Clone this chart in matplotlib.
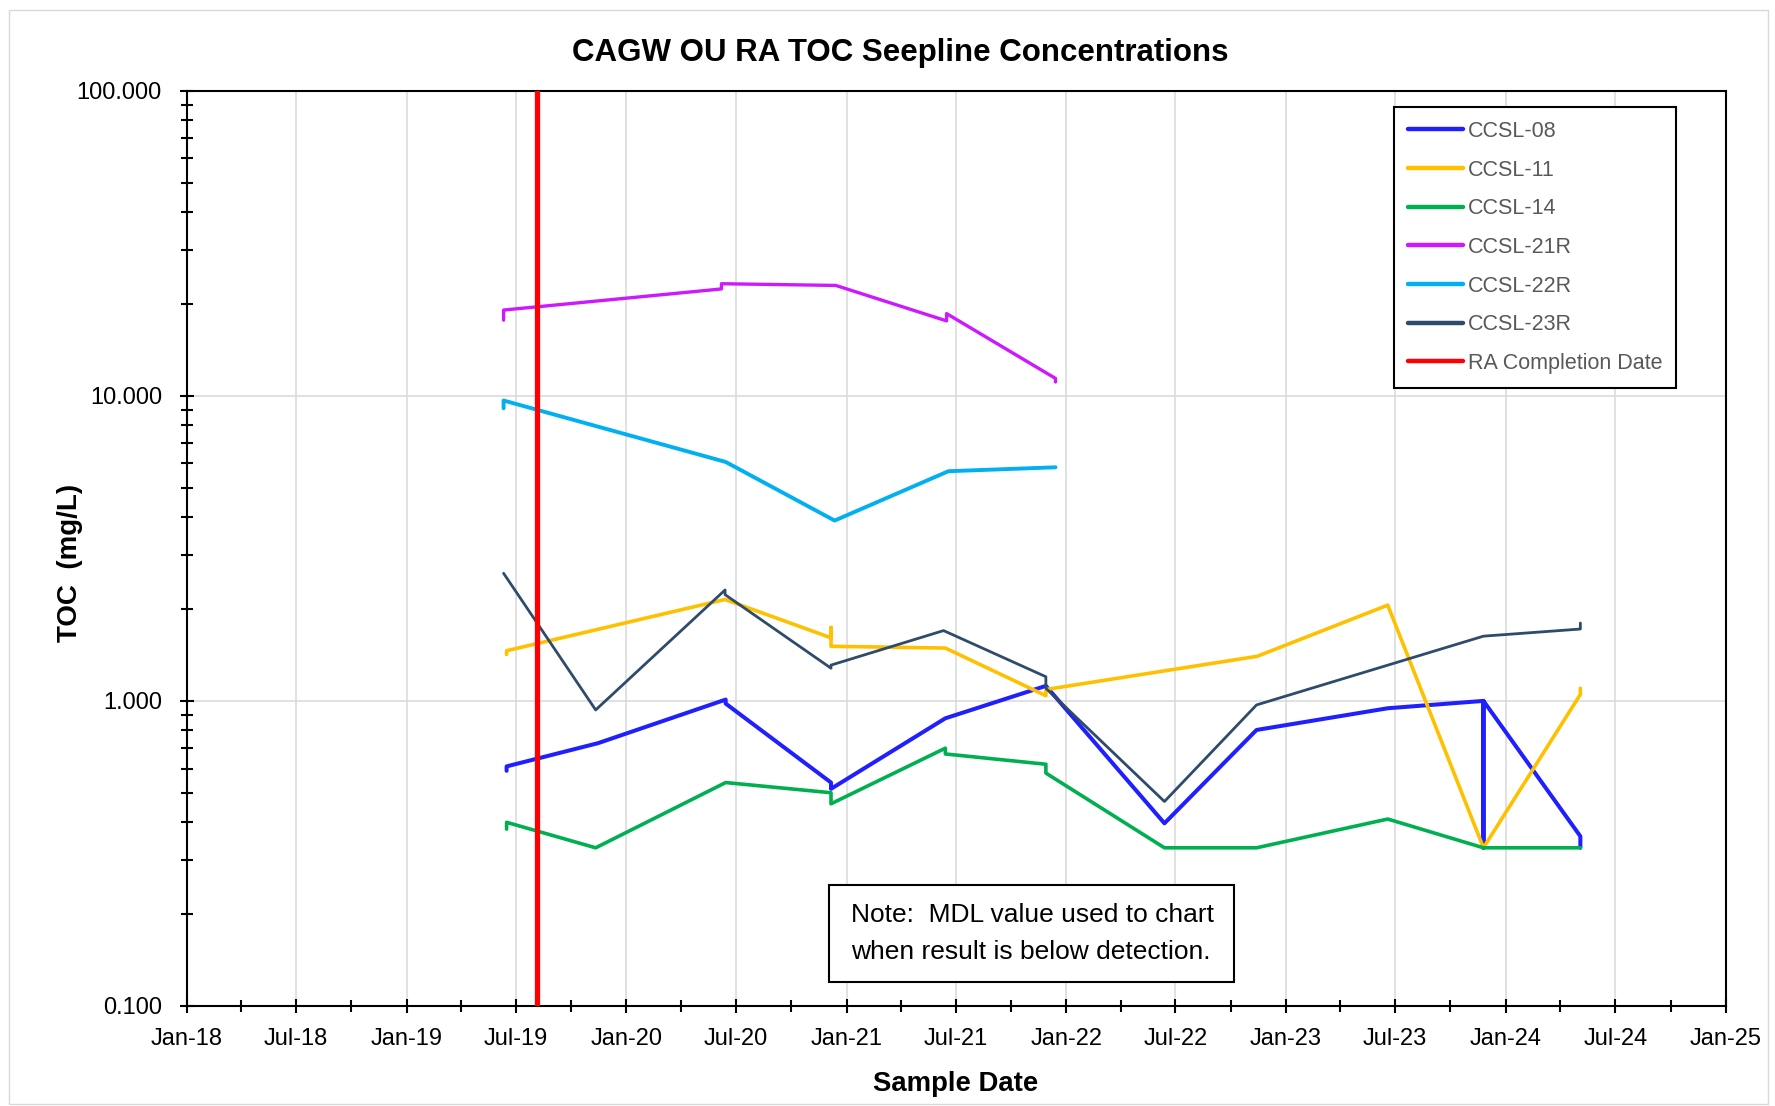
import matplotlib
matplotlib.use("Agg")
import matplotlib.pyplot as plt
import matplotlib.dates as mdates
from matplotlib.ticker import LogLocator, FixedLocator, FormatStrFormatter, NullFormatter
from matplotlib.patches import Rectangle
import pandas as pd

plt.rcParams["font.family"] = ["Liberation Sans", "DejaVu Sans"]

# ---- sample data (TOC, mg/L); repeated dates are field duplicates ----
ccsl08_dates = ["2019-06-16", "2019-06-16", "2019-11-15", "2020-06-14", "2020-06-14",
                "2020-12-06", "2020-12-06", "2021-06-14", "2021-11-28", "2022-06-13",
                "2022-11-13", "2023-06-19", "2023-11-25", "2023-11-25", "2023-11-25",
                "2024-05-04", "2024-05-04"]
ccsl08_vals = [0.59, 0.61, 0.727, 1.01, 0.98, 0.54, 0.515, 0.877, 1.12, 0.397,
               0.803, 0.946, 1.0, 0.33, 1.0, 0.36, 0.33]

ccsl11_dates = ["2019-06-16", "2019-06-16", "2020-06-13", "2020-12-06", "2020-12-06",
                "2020-12-06", "2021-06-14", "2021-11-28", "2021-11-28", "2022-11-14",
                "2023-06-19", "2023-11-25", "2024-05-04", "2024-05-04"]
ccsl11_vals = [1.42, 1.46, 2.15, 1.61, 1.74, 1.51, 1.49, 1.04, 1.09, 1.40,
               2.06, 0.33, 1.05, 1.10]

ccsl14_dates = ["2019-06-16", "2019-06-16", "2019-11-11", "2020-06-14", "2020-12-06",
                "2020-12-06", "2021-06-14", "2021-06-14", "2021-11-28", "2021-11-28",
                "2022-06-13", "2022-11-13", "2023-06-19", "2023-11-25", "2024-05-04"]
ccsl14_vals = [0.38, 0.40, 0.33, 0.54, 0.50, 0.46, 0.70, 0.67, 0.62, 0.58,
               0.33, 0.33, 0.41, 0.33, 0.33]

ccsl21r_dates = ["2019-06-11", "2019-06-11", "2020-06-07", "2020-06-07", "2020-12-14",
                 "2021-06-16", "2021-06-16", "2021-12-14", "2021-12-14"]
ccsl21r_vals = [17.7, 19.1, 22.4, 23.3, 23.0, 17.6, 18.6, 11.4, 11.1]

ccsl22r_dates = ["2019-06-11", "2019-06-11", "2020-06-14", "2020-12-12", "2021-06-19",
                 "2021-12-14"]
ccsl22r_vals = [9.1, 9.65, 6.07, 3.90, 5.66, 5.83]

ccsl23r_dates = ["2019-06-11", "2019-11-11", "2020-06-13", "2020-06-13", "2020-12-06",
                 "2020-12-06", "2021-06-11", "2021-11-28", "2021-11-28", "2022-06-13",
                 "2022-11-13", "2023-11-25", "2024-05-04", "2024-05-04"]
ccsl23r_vals = [2.62, 0.934, 2.31, 2.23, 1.28, 1.31, 1.70, 1.20, 1.10, 0.468,
                0.97, 1.63, 1.72, 1.80]

ra_completion_dates = ["2019-08-05", "2019-08-05"]
ra_completion_vals = [0.1, 100.0]

series = [
    ("CCSL-08", ccsl08_dates, ccsl08_vals, "#2020FF", 2.9),
    ("CCSL-11", ccsl11_dates, ccsl11_vals, "#FFC000", 2.6),
    ("CCSL-14", ccsl14_dates, ccsl14_vals, "#00B050", 2.6),
    ("CCSL-21R", ccsl21r_dates, ccsl21r_vals, "#CC19FF", 2.4),
    ("CCSL-22R", ccsl22r_dates, ccsl22r_vals, "#00B0F0", 2.8),
    ("CCSL-23R", ccsl23r_dates, ccsl23r_vals, "#2E4B6B", 2.0),
    ("RA Completion Date", ra_completion_dates, ra_completion_vals, "#FF0000", 3.8),
]

x_start, x_end = "2018-01-01", "2025-01-01"
y_min, y_max = 0.1, 100.0

W, H = 1775, 1106
fig = plt.figure(figsize=(W / 100, H / 100), dpi=100)

# light chart-area border
fig.patches.append(Rectangle((9 / W, 1 - 1104 / H), (1768 - 9) / W, (1104 - 10) / H,
                             transform=fig.transFigure, fill=False,
                             edgecolor="#D9D9D9", linewidth=1.0))

L, R, T, B = 187, 1726, 90.7, 1006
ax = fig.add_axes([L / W, 1 - B / H, (R - L) / W, (B - T) / H])

handles = []
for name, d, v, c, lw in series:
    h, = ax.plot(pd.to_datetime(d), v, color=c, linewidth=lw, label=name,
                 solid_capstyle="round", solid_joinstyle="round", zorder=3)
    handles.append(h)

ax.set_yscale("log")
ax.set_ylim(y_min, y_max)
ax.set_xlim(pd.Timestamp(x_start), pd.Timestamp(x_end))

ax.yaxis.set_major_locator(FixedLocator([0.1, 1, 10, 100]))
ax.yaxis.set_major_formatter(FormatStrFormatter("%.3f"))
ax.yaxis.set_minor_locator(LogLocator(base=10, subs=range(2, 10)))
ax.yaxis.set_minor_formatter(NullFormatter())

ax.xaxis.set_major_locator(mdates.MonthLocator(bymonth=[1, 7]))
ax.xaxis.set_major_formatter(mdates.DateFormatter("%b-%y"))
ax.xaxis.set_minor_locator(mdates.MonthLocator(bymonth=[4, 10]))

ax.grid(True, which="major", color="#D9D9D9", linewidth=1.1, zorder=0)
ax.set_axisbelow(True)

for s in ax.spines.values():
    s.set_color("black")
    s.set_linewidth(1.5)

ax.tick_params(axis="both", which="major", direction="inout", length=10, width=1.5,
               labelsize=17, colors="black")
ax.tick_params(axis="both", which="minor", direction="inout", length=8, width=1.5)
ax.tick_params(axis="y", which="major", pad=13)
ax.tick_params(axis="x", which="major", pad=11)

# titles
fig.text(900 / W, 1 - 53 / H, "CAGW OU RA TOC Seepline Concentrations",
         ha="center", va="center", fontsize=22.5, fontweight="bold")
fig.text(956 / W, 1 - 1084 / H, "Sample Date", ha="center", va="center",
         fontsize=19.8, fontweight="bold")
fig.text(70 / W, 1 - 563 / H, "TOC  (mg/L)", ha="center", va="center",
         rotation=90, fontsize=20, fontweight="bold")

# legend
leg = ax.legend(handles=handles, loc="upper left",
                bbox_to_anchor=((1394 - L) / (R - L), (B - 107) / (B - T)),
                borderaxespad=0, fontsize=15.5, labelcolor="#595959",
                frameon=True, fancybox=False, edgecolor="black", framealpha=1,
                handlelength=2.55, handletextpad=0.22, labelspacing=0.82,
                borderpad=0.65)
leg.get_frame().set_linewidth(1.5)
for lh in leg.get_lines():
    lh.set_linewidth(3.2)
    lh.set_solid_capstyle("round")

# note box
bx0, bx1 = (829 - L) / (R - L), (1234 - L) / (R - L)
by0, by1 = (B - 982) / (B - T), (B - 885) / (B - T)
ax.add_patch(Rectangle((bx0, by0), bx1 - bx0, by1 - by0, transform=ax.transAxes,
                       facecolor="white", edgecolor="black", linewidth=1.5, zorder=5))
ax.text((850.7 - L) / (R - L), (B - 915) / (B - T), "Note:  MDL value used to chart",
        transform=ax.transAxes, ha="left", va="center", fontsize=19, zorder=6)
ax.text((850.7 - L) / (R - L), (B - 951.7) / (B - T), "when result is below detection.",
        transform=ax.transAxes, ha="left", va="center", fontsize=19, zorder=6)

fig.savefig("out.png", dpi=100)
